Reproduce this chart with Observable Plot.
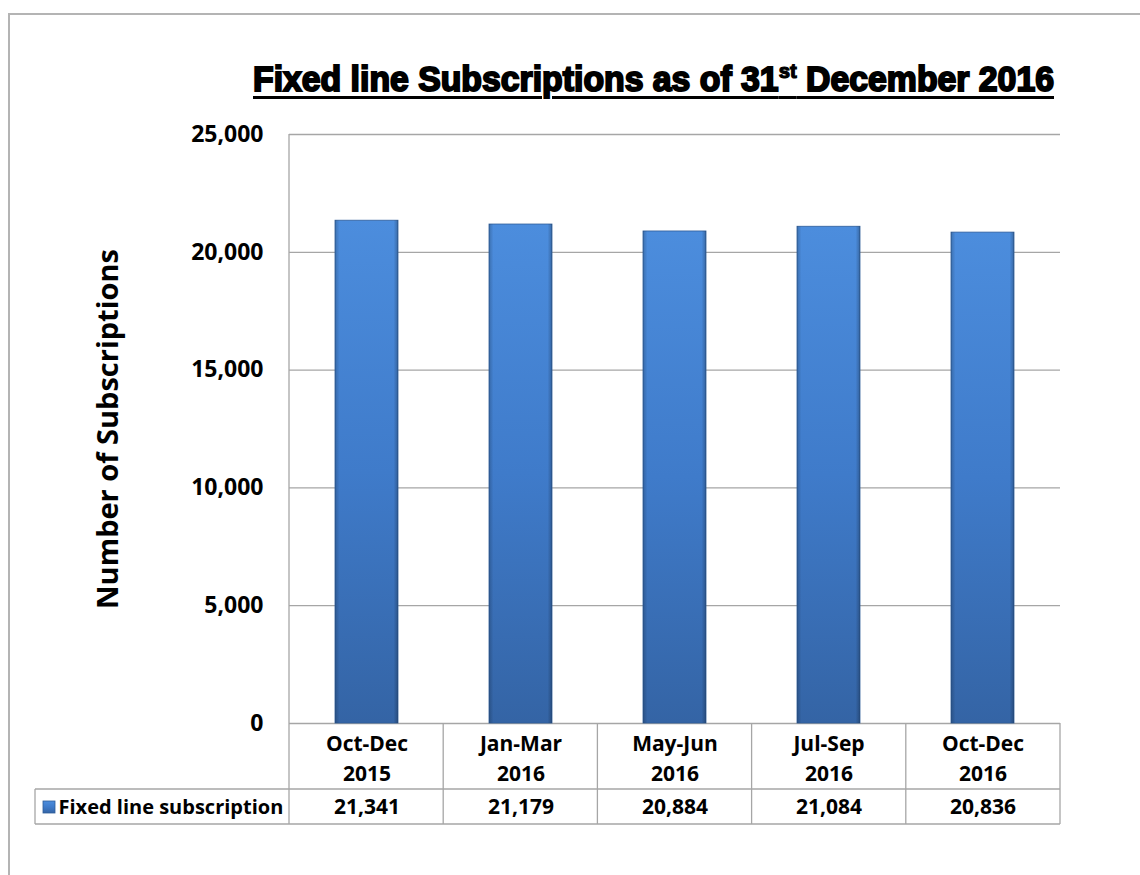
<!DOCTYPE html>
<html>
<head>
<meta charset="utf-8">
<script src="https://cdn.jsdelivr.net/npm/d3@7"></script>
<script src="https://cdn.jsdelivr.net/npm/@observablehq/plot@0.6"></script>
<style>
  html, body { margin: 0; padding: 0; background: #fff; }
  #page { position: relative; width: 1140px; height: 875px; overflow: hidden; }
  #border { position: absolute; left: 8px; top: 13px; width: 1200px; height: 1000px;
            border-left: 2px solid #b4b4b4; border-top: 2px solid #b4b4b4; }
  #title { position: absolute; left: 0; top: 61px; white-space: nowrap;
           font-family: "Liberation Sans", Arial, sans-serif; font-weight: bold; font-size: 35px;
           line-height: 35px; color: #000; -webkit-text-stroke: 2px #000;
           text-decoration: underline; text-decoration-thickness: 3px; text-underline-offset: 5px;
           transform-origin: 0 0; }
  #title sup { font-size: 21px; vertical-align: 0; position: relative; top: -13px; -webkit-text-stroke: 1.2px #000; }
  #chart { position: absolute; left: 0; top: 0; }
</style>
</head>
<body>
<div id="page">
  <div id="border"></div>
  <div id="chart"></div>
  <div id="title">Fixed line Subscriptions as of 31<sup>st</sup> December 2016</div>
</div>
<script>
const periods = ["Oct-Dec", "Jan-Mar", "May-Jun", "Jul-Sep", "Oct-Dec"];
const years = ["2015", "2016", "2016", "2016", "2016"];
const subscriptions = [21341, 21179, 20884, 21084, 20836];
const yTicks = [0, 5000, 10000, 15000, 20000, 25000];
const seriesName = "Fixed line subscription";
const yTitle = "Number of Subscriptions";

const cats = periods.map((p, i) => p + "\n" + years[i]);
const data = cats.map((c, i) => ({cat: c, value: subscriptions[i]}));
const fmt = d3.format(",");

// gradients for the bevelled bars
const defsMark = () => {
  const defs = d3.create("svg:defs");
  const g1 = defs.append("linearGradient").attr("id", "barGrad").attr("x1", 0).attr("y1", 0).attr("x2", 0).attr("y2", 1);
  g1.append("stop").attr("offset", "0%").attr("stop-color", "#4c8ddd");
  g1.append("stop").attr("offset", "50%").attr("stop-color", "#3f7bca");
  g1.append("stop").attr("offset", "100%").attr("stop-color", "#3464a5");
  const g2 = defs.append("linearGradient").attr("id", "barShade").attr("x1", 0).attr("y1", 0).attr("x2", 1).attr("y2", 0);
  g2.append("stop").attr("offset", "0%").attr("stop-color", "#000").attr("stop-opacity", 0.2);
  g2.append("stop").attr("offset", "7%").attr("stop-color", "#000").attr("stop-opacity", 0);
  g2.append("stop").attr("offset", "93%").attr("stop-color", "#000").attr("stop-opacity", 0);
  g2.append("stop").attr("offset", "100%").attr("stop-color", "#000").attr("stop-opacity", 0.25);
  return defs.node();
};

// data table under the axis
const tableMark = (index, scales, values, dims) => {
  const {width, height, marginLeft, marginRight, marginBottom, marginTop} = dims;
  const n = cats.length;
  const step = (width - marginLeft - marginRight) / n;
  const x0 = marginLeft, x1 = width - marginRight;
  const yAxis = height - marginBottom;
  const yHead = yAxis + 66, yRow = yAxis + 101;
  const legendLeft = 35;
  const g = d3.create("svg:g").attr("stroke", "#a6a6a6").attr("stroke-width", 1.3).attr("fill", "none");
  g.append("line").attr("x1", x0).attr("x2", x0).attr("y1", marginTop).attr("y2", yRow);
  for (let i = 1; i <= n; i++) {
    const xc = scales.x(cats[i - 1]) + (scales.x.bandwidth ? scales.x.bandwidth / 2 : 0) + step / 2;
    const xx = isFinite(xc) ? xc : x0 + i * step;
    g.append("line").attr("x1", xx).attr("x2", xx).attr("y1", yAxis).attr("y2", yRow);
  }
  g.append("line").attr("x1", legendLeft).attr("x2", x1).attr("y1", yHead).attr("y2", yHead);
  g.append("line").attr("x1", legendLeft).attr("x2", x1).attr("y1", yRow).attr("y2", yRow);
  g.append("line").attr("x1", legendLeft).attr("x2", legendLeft).attr("y1", yHead).attr("y2", yRow);
  g.append("rect").attr("x", 43).attr("y", yAxis + 78).attr("width", 12).attr("height", 12)
    .attr("fill", "url(#barGrad)").attr("stroke", "#2e5c99").attr("stroke-width", 0.8);
  return g.node();
};

const chart = Plot.plot({
  width: 1140,
  height: 875,
  marginTop: 134,
  marginLeft: 289,
  marginRight: 80,
  marginBottom: 152,
  style: {fontFamily: "'Open Sans', sans-serif", fontWeight: "bold", fontSize: "21px", color: "#000", background: "transparent", overflow: "visible"},
  x: {domain: cats, paddingInner: 0.59, paddingOuter: 0.295, label: null},
  y: {domain: [0, 25000], label: null},
  marks: [
    defsMark,
    Plot.gridY(yTicks, {stroke: "#a6a6a6", strokeOpacity: 1, strokeWidth: 1.3}),
    Plot.barY(data, {x: "cat", y: "value", fill: "url(#barGrad)", stroke: "#2e5c99", strokeWidth: 0.8}),
    Plot.barY(data, {x: "cat", y: "value", fill: "url(#barShade)"}),
    Plot.axisY(yTicks, {tickSize: 0, tickPadding: 26, tickFormat: fmt, fontSize: 23, label: null}),
    Plot.axisX({tickSize: 0, tickPadding: 7, lineHeight: 1.4, label: null, fontSize: 21}),
    Plot.text(data, {x: "cat", text: d => fmt(d.value), frameAnchor: "bottom", lineAnchor: "middle", dy: 84, fontSize: 21}),
    Plot.text([seriesName], {frameAnchor: "bottom-left", lineAnchor: "middle", dx: -231, dy: 84, textAnchor: "start", fontSize: 20}),
    Plot.text([yTitle], {frameAnchor: "left", textAnchor: "middle", lineAnchor: "middle", dx: -181, rotate: -90, fontSize: 29, letterSpacing: "2px"}),
    tableMark
  ]
});
document.getElementById("chart").appendChild(chart);

// fit the title to the reference width
const t = document.getElementById("title");
const w = t.getBoundingClientRect().width;
const targetW = 801;
t.style.transform = `scaleX(${targetW / w})`;
t.style.left = "253px";
</script>
</body>
</html>
